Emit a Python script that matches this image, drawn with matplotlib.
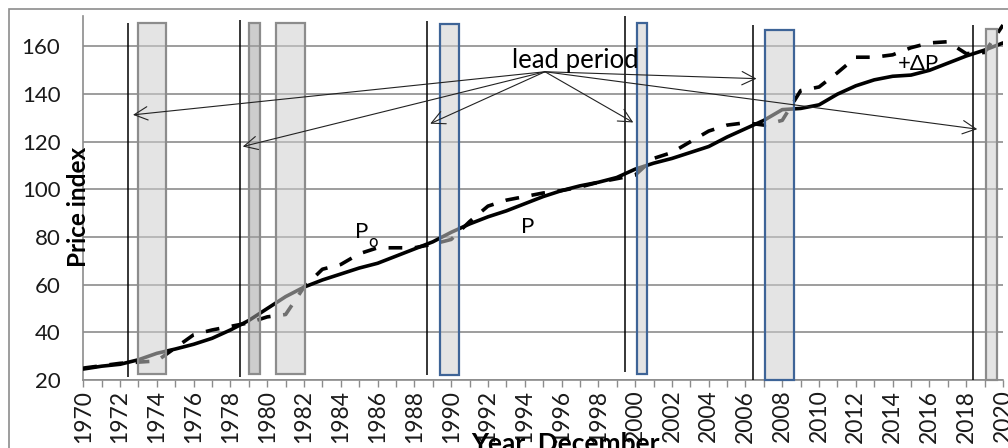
import numpy as np
import matplotlib
matplotlib.use('Agg')
import matplotlib.pyplot as plt
from matplotlib.patches import Rectangle

plt.rcParams['font.family'] = ['Lato', 'DejaVu Sans']

# данные
years = list(range(1970, 2021))
p = [24.6, 25.8, 26.6, 28.5, 31.2, 33.0, 35.0, 37.5, 41.0, 45.0,
     50.0, 55.0, 59.0, 62.0, 64.5, 67.0, 69.0, 72.0, 75.0, 78.0,
     82.0, 85.5, 88.5, 91.0, 94.0, 97.0, 99.5, 101.5, 103.0, 105.0,
     108.5, 111.0, 113.0, 115.5, 118.0, 122.0, 125.5, 129.0, 133.5, 134.0,
     135.5, 140.0, 143.5, 146.0, 147.5, 148.0, 150.0, 153.0, 156.0, 158.5,
     161.5]
p_o = [25.0, 26.0, 27.0, 27.5, 28.0, 33.5, 39.0, 41.0, 42.5, 44.0,
       46.5, 47.5, 59.0, 66.5, 68.5, 73.0, 75.5, 75.5, 75.5, 77.0,
       79.0, 86.5, 93.0, 95.5, 97.0, 98.5, 99.5, 101.0, 103.0, 104.5,
       106.0, 113.0, 115.5, 120.0, 124.5, 127.0, 128.0, 127.0, 129.0, 141.5,
       143.0, 149.0, 155.5, 155.5, 156.5, 159.5, 161.5, 162.0, 157.0, 157.5,
       169.0]

# вертикальные линии (год, низ, верх)
vline_x = [1972.45, 1978.5, 1988.7, 1999.45, 2006.4, 2018.35]
vline_lo = [21.3, 21.3, 22.0, 23.5, 20.0, 20.0]
vline_hi = [170.0, 171.3, 170.5, 172.6, 169.0, 169.0]

# прямоугольники периодов
bar_start = [1973.0, 1979.0, 1980.5, 1989.4, 2000.1, 2007.05, 2019.1]
bar_end = [1974.5, 1979.6, 1982.05, 1990.4, 2000.65, 2008.65, 2019.7]
bar_lo = [22.5, 22.5, 22.5, 22.0, 22.5, 20.0, 20.0]
bar_hi = [170.0, 170.0, 170.0, 169.5, 170.0, 167.0, 167.5]
bar_face = ['#cecece', '#a4a4a4', '#cecece', '#cecece', '#cecece', '#cecece', '#cecece']
bar_edge = ['#8c8c8c', '#8c8c8c', '#8c8c8c', '#3e6497', '#3e6497', '#3e6497', '#8c8c8c']

# стрелки "lead period"
arrow_from = (1995.1, 149.4)
arrow_x = [1972.7, 1978.67, 1988.86, 1999.9, 2006.6, 2018.6]
arrow_y = [131.3, 118.0, 127.6, 128.1, 146.5, 125.3]

fig = plt.figure(figsize=(10.08, 4.48), dpi=100)
ax = fig.add_axes([83.3 / 1008, 1 - 380 / 448, (1003 - 83.3) / 1008, (380 - 16) / 448])

ax.plot(years, p, color='black', lw=2.6, zorder=3, solid_capstyle='round')
ax.plot(years, p_o, color='black', lw=2.6, dashes=(3.8, 3.5), zorder=3)

for i in range(len(bar_start)):
    ax.bar(bar_start[i], bar_hi[i] - bar_lo[i], width=bar_end[i] - bar_start[i],
           bottom=bar_lo[i], align='edge',
           facecolor=matplotlib.colors.to_rgba(bar_face[i], 0.55),
           edgecolor=bar_edge[i], linewidth=1.6, zorder=4, clip_on=False)

ax.vlines(vline_x, vline_lo, vline_hi, color='black', lw=1.1, zorder=5, clip_on=False)

for tx, ty in zip(arrow_x, arrow_y):
    ax.annotate('', xy=(tx, ty), xytext=arrow_from,
                arrowprops=dict(arrowstyle='->', color='#222222', lw=0.8,
                                mutation_scale=24, shrinkA=0, shrinkB=0),
                zorder=6)

ax.text(1996.75, 154, 'lead period', fontsize=18.5, ha='center', va='center', zorder=7)
ax.text(1985.11, 82.2, 'P', fontsize=16, ha='center', va='center', zorder=7)
ax.text(1985.75, 77.8, 'o', fontsize=12, ha='center', va='center', zorder=7)
ax.text(1994.17, 84.1, 'P', fontsize=16, ha='center', va='center', zorder=7)
ax.text(2015.4, 152.5, '+ΔP', fontsize=16, ha='center', va='center', zorder=7)

ax.set_xlim(1970, 2020)
ax.set_ylim(20, 172.8)
ax.set_yticks(range(20, 161, 20))
ax.set_xticks(range(1970, 2021, 2))
ax.set_xticks(range(1970, 2021), minor=True)
ax.tick_params(axis='y', length=0, pad=16.5, labelsize=16, colors='#1a1a1a')
ax.tick_params(axis='x', which='both', length=5, width=1, color='#8c8c8c',
               direction='out', pad=2, labelsize=16.5, labelrotation=90, labelcolor='#1a1a1a')
ax.grid(axis='y', color='#8c8c8c', lw=1.2, zorder=0)
ax.set_axisbelow(True)
for s in ['top', 'right']:
    ax.spines[s].set_visible(False)
for s in ['left', 'bottom']:
    ax.spines[s].set_color('#8c8c8c')
    ax.spines[s].set_linewidth(1.2)

fig.text(78 / 1008, 1 - 207 / 448, 'Price index', rotation=90, fontsize=17.5,
         fontweight='bold', ha='center', va='center')
fig.text(575 / 1008, -0.0067, 'Year, December...', fontsize=19,
         fontweight='bold', ha='center', va='baseline')

fig.patches.append(Rectangle((9 / 1008, -0.1), 1.2, 1.1 - 9 / 448, fill=False,
                             edgecolor='#8c8c8c', lw=1.2, transform=fig.transFigure))

plt.savefig('out.png', dpi=100)
